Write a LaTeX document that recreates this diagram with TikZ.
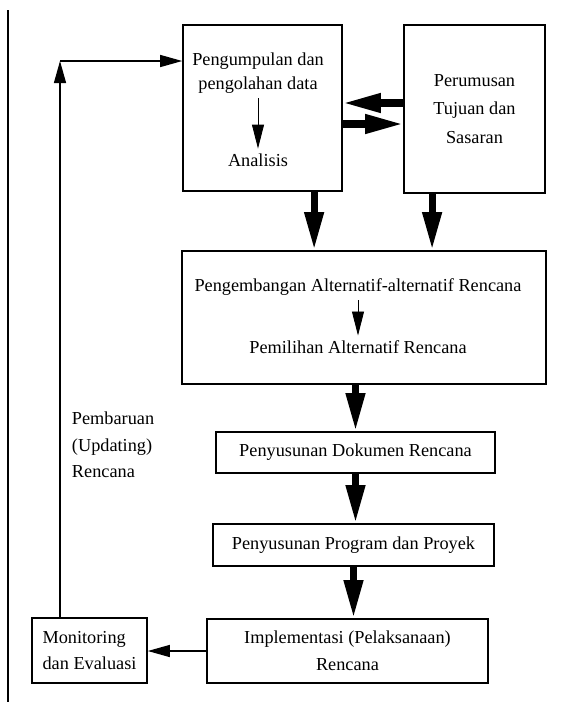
\documentclass[tikz,border=0pt]{standalone}
\usepackage{fontspec}
\setmainfont{Liberation Serif}
\usetikzlibrary{arrows.meta}

\begin{document}
\begin{tikzpicture}[x=0.025cm, y=-0.025cm,
    box/.style={draw, line width=1.1pt, rectangle, inner sep=0pt},
    txt/.style={font=\fontsize{13}{19}\selectfont, align=center},
    bigarrow/.style={line width=5pt, -{Triangle[length=0.95cm, width=0.45cm]}},
    smallarrow/.style={line width=0.6pt, -{Triangle[length=0.6cm, width=0.3cm]}},
    thinarrow/.style={line width=0.9pt, -{Triangle[length=0.55cm, width=0.3cm]}}]
    \useasboundingbox (0,0) rectangle (568,706);
    \draw[line width=0.9pt] (8,10) -- (8,702);

    \node[box, minimum width=3.975cm, minimum height=4.15cm] (kumpul) at (262.5,108) {};
    \node[txt, font=\fontsize{13}{17}\selectfont] (kumpultxt) at (258,73) {Pengumpulan dan\\pengolahan data};
    \node[txt] (analisis) at (258,160) {Analisis};
    \draw[smallarrow] (kumpultxt) -- (analisis);

    \node[box, txt, font=\fontsize{13}{20}\selectfont, minimum width=3.525cm, minimum height=4.2cm] (rumus) at (474.5,109) {Perumusan\\Tujuan dan\\Sasaran};

    \node[box, minimum width=9.1cm, minimum height=3.325cm] (kembang) at (364,317.5) {};
    \node[txt] (alternatif) at (358,287) {Pengembangan Alternatif-alternatif Rencana};
    \node[txt] (pilih) at (358,347) {Pemilihan Alternatif Rencana};
    \draw[smallarrow] (alternatif) -- (pilih);

    \node[box, txt, minimum width=6.975cm, minimum height=1.025cm] (dokumen) at (355.5,452.5) {Penyusunan Dokumen Rencana};
    \node[box, txt, minimum width=7.025cm, minimum height=1.05cm] (program) at (353.5,545) {Penyusunan Program dan Proyek};
    \node[box, txt, minimum width=7.025cm, minimum height=1.6cm] (implementasi) at (347.5,651) {Implementasi (Pelaksanaan)\\Rencana};
    \node[box, txt, align=left, minimum width=2.875cm, minimum height=1.625cm] (monitor) at (89.5,650.5) {Monitoring\\dan Evaluasi};

    \node[txt, align=left, anchor=west] (pembaruan) at (67,445) {Pembaruan\\(Updating)\\Rencana};

    % panah tebal
    \draw[bigarrow] ([yshift=0.15cm]rumus.west) -- ([yshift=0.15cm]rumus.west -| kumpul.east);
    \draw[bigarrow] ([yshift=-0.4cm]kumpul.east) -- ([yshift=-0.4cm]kumpul.east -| rumus.west);
    \draw[bigarrow] ([xshift=1.29cm]kumpul.south) -- ([xshift=1.29cm]kumpul.south |- kembang.north);
    \draw[bigarrow] ([xshift=-1.06cm]rumus.south) -- ([xshift=-1.06cm]rumus.south |- kembang.north);
    \draw[bigarrow] (kembang.south -| dokumen.north) -- (dokumen.north);
    \draw[bigarrow] (dokumen.south) -- (dokumen.south |- program.north);
    \draw[bigarrow] (program.south) -- (program.south |- implementasi.north);

    % umpan balik
    \draw[thinarrow] (implementasi.west) -- (implementasi.west -| monitor.east);
    \coordinate (belok) at (60,61);
    \draw[thinarrow] (belok |- monitor.north) -- (belok);
    \draw[thinarrow] (belok) -- (belok -| kumpul.west);

  \end{tikzpicture}
\end{document}
